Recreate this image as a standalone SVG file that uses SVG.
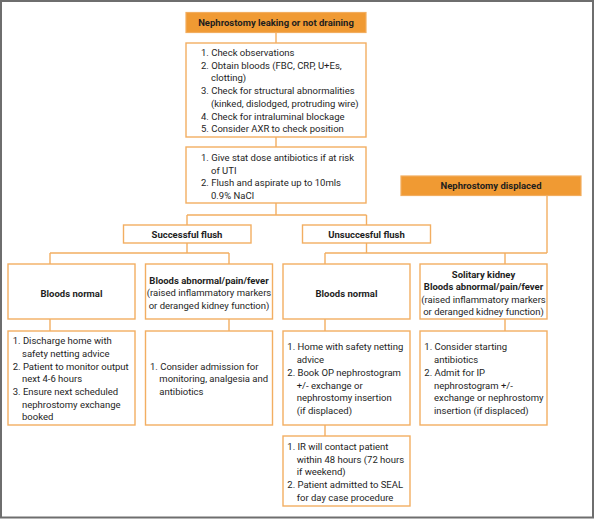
<svg xmlns="http://www.w3.org/2000/svg" width="595" height="519" viewBox="0 0 595 519">
<style>
.frame{fill:#fff;stroke:#6e6e6e;stroke-width:2}
.hdr{fill:#F09A33;stroke:#F2AD5E;stroke-width:1.2}
.box{fill:#fff;stroke:#F2AE62;stroke-width:1.4}
.ln{fill:none;stroke:#F2AE62;stroke-width:1.4}
text{font-family:Roboto,"Liberation Sans",sans-serif;font-size:9.5px;fill:#1e1e1e}
.b{font-weight:bold}
.c{text-anchor:middle}
</style>
<rect class="frame" x="1" y="1" width="592" height="516.5"/>
<g id="connectors">
<path class="ln" d="M276 32.5V43 M276 137V147 M276 203V215 M187 215H366.5 M187 215V225 M366.5 215V225"/>
<path class="ln" d="M187 243V253 M50 253H229 M50 253V264 M229 253V264 M50 319V331 M229 319V331"/>
<path class="ln" d="M366.5 243V253 M547 195.5V253 M325 253H547 M325 253V264 M505 253V264 M325 319V331 M505 319V331 M325 425V436"/>
</g>
<g id="n1"><rect class="hdr" x="186" y="12.5" width="180" height="20"/><text class="b c" x="276" y="26.2">Nephrostomy leaking or not draining</text></g>
<g id="n2"><rect class="box" x="186" y="43" width="180" height="94"/>
<text x="201" y="55.8">1. Check observations</text>
<text x="201" y="68.5">2. Obtain bloods (FBC, CRP, U+Es,</text>
<text x="211" y="81.2">clotting)</text>
<text x="201" y="94.2">3. Check for structural abnormalities</text>
<text x="211" y="106.8">(kinked, dislodged, protruding wire)</text>
<text x="201" y="119.5">4. Check for intraluminal blockage</text>
<text x="201" y="132.2">5. Consider AXR to check position</text>
</g>
<g id="n3"><rect class="box" x="186" y="147" width="180" height="56"/>
<text x="201" y="161.2">1. Give stat dose antibiotics if at risk</text>
<text x="211" y="173.5">of UTI</text>
<text x="201" y="186.2">2. Flush and aspirate up to 10mls</text>
<text x="211" y="198.8">0.9% NaCl</text>
</g>
<g id="n4"><rect class="hdr" x="401" y="176" width="180" height="19.5"/><text class="b c" x="491" y="188.8">Nephrostomy displaced</text></g>
<g id="n5"><rect class="box" x="123.5" y="225" width="127.5" height="18"/><text class="b c" x="187" y="237.8">Successful flush</text></g>
<g id="n6"><rect class="box" x="302.5" y="225" width="128" height="18"/><text class="b c" x="366.5" y="237.8">Unsuccesful flush</text></g>
<g id="n7"><rect class="box" x="8" y="264" width="127" height="55"/><text class="b c" x="71.5" y="296.5">Bloods normal</text></g>
<g id="n8"><rect class="box" x="145.5" y="264" width="127" height="55"/>
<text class="b c" x="209" y="283.5">Bloods abnormal/pain/fever</text>
<text class="c" x="209" y="296.2">(raised inflammatory markers</text>
<text class="c" x="209" y="309.2">or deranged kidney function)</text>
</g>
<g id="n9"><rect class="box" x="283" y="264" width="127" height="55"/><text class="b c" x="346.5" y="296.5">Bloods normal</text></g>
<g id="n10"><rect class="box" x="420" y="264" width="127" height="55"/>
<text class="b c" x="483.5" y="277.5">Solitary kidney</text>
<text class="b c" x="483.5" y="290.2">Bloods abnormal/pain/fever</text>
<text class="c" x="483.5" y="302.8">(raised inflammatory markers</text>
<text class="c" x="483.5" y="315.2">or deranged kidney function)</text>
</g>
<g id="n11"><rect class="box" x="8" y="331" width="127" height="94"/>
<text x="12.7" y="343.5">1. Discharge home with</text>
<text x="22" y="356.8">safety netting advice</text>
<text x="12.7" y="369.5">2. Patient to monitor output</text>
<text x="22" y="382.2">next 4-6 hours</text>
<text x="12.7" y="395.2">3. Ensure next scheduled</text>
<text x="22" y="407.5">nephrostomy exchange</text>
<text x="22" y="420.2">booked</text>
</g>
<g id="n12"><rect class="box" x="145.5" y="331" width="127" height="94"/>
<text x="150" y="369.5">1. Consider admission for</text>
<text x="159.3" y="382.2">monitoring, analgesia and</text>
<text x="159.3" y="395.2">antibiotics</text>
</g>
<g id="n13"><rect class="box" x="283" y="331" width="127" height="94"/>
<text x="287.3" y="350.2">1. Home with safety netting</text>
<text x="296.7" y="363.2">advice</text>
<text x="287.3" y="375.8">2. Book OP nephrostogram</text>
<text x="296.7" y="388.5">+/- exchange or</text>
<text x="296.7" y="401.2">nephrostomy insertion</text>
<text x="296.7" y="413.8">(if displaced)</text>
</g>
<g id="n14"><rect class="box" x="420" y="331" width="127" height="94"/>
<text x="424.3" y="350.2">1. Consider starting</text>
<text x="434" y="363.2">antibiotics</text>
<text x="424.3" y="375.8">2. Admit for IP</text>
<text x="434" y="388.5">nephrostogram +/-</text>
<text x="434" y="401.2">exchange or nephrostomy</text>
<text x="434" y="413.8">insertion (if displaced)</text>
</g>
<g id="n15"><rect class="box" x="283" y="436" width="127" height="70"/>
<text x="287.3" y="449.5">1. IR will contact patient</text>
<text x="296.7" y="462.8">within 48 hours (72 hours</text>
<text x="296.7" y="475.2">if weekend)</text>
<text x="287.3" y="487.8">2. Patient admitted to SEAL</text>
<text x="296.7" y="500.8">for day case procedure</text>
</g>
</svg>
